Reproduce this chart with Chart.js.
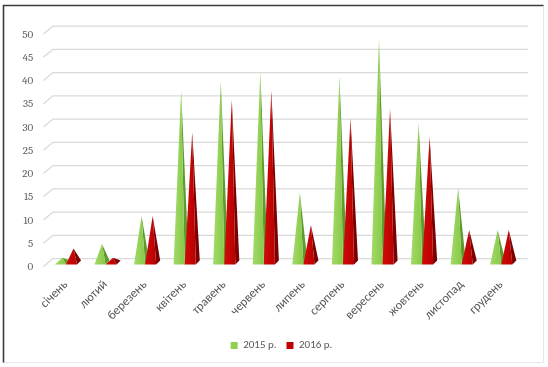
<!DOCTYPE html>
<html>
<head>
<meta charset="utf-8">
<script src="https://cdn.jsdelivr.net/npm/chart.js@4.4.1/dist/chart.umd.min.js"></script>
<style>
  html, body { margin: 0; padding: 0; background: #ffffff; }
  #wrap { width: 548px; height: 367px; position: relative; }
</style>
</head>
<body>
<div id="wrap"><canvas id="chart" width="548" height="367"></canvas></div>
<script>
// Monthly values for two years
const months = ['січень', 'лютий', 'березень', 'квітень', 'травень', 'червень',
                'липень', 'серпень', 'вересень', 'жовтень', 'листопад', 'грудень'];
const values2015 = [1, 4, 10, 37, 39, 41, 15, 40, 48, 30, 16, 7];
const values2016 = [3, 1, 10, 28, 35, 37, 8, 31, 33, 27, 7, 7];
const seriesLabels = ['2015 р.', '2016 р.'];
const yMin = 0, yMax = 50, yStep = 5;

// Colours for each series: front face (light -> dark) and side face
const palette = [
  { legend: '#92d050', front0: '#a2da68', front1: '#88c948', side: '#5e9a2c' },
  { legend: '#c00000', front0: '#d20a0a', front1: '#b80000', side: '#7c0000' }
];

// Depth of the plot "box" (back wall is shifted up-right, front edge down-left)
const wall = { dx: 4.8, dy: 3.9 };
// Half depth of every pyramid base
const pyr = { dx: 2, dy: 2 };

const textColor = '#595959';
const sansFont = "Carlito, Lato, 'Liberation Sans', sans-serif";
const serifFont = "Cambria, 'Liberation Serif', 'DejaVu Serif', serif";

// Back-wall gridlines with the short diagonal floor ticks on the left
const wallGrid = {
  id: 'wallGrid',
  beforeDatasetsDraw(chart) {
    const { ctx, chartArea, scales: { y } } = chart;
    ctx.save();
    ctx.strokeStyle = '#d9d9d9';
    ctx.lineWidth = 1.3;
    y.ticks.forEach(t => {
      const py = y.getPixelForValue(t.value);
      ctx.beginPath();
      ctx.moveTo(chartArea.left - wall.dx, py + wall.dy);
      ctx.lineTo(chartArea.left + wall.dx, py - wall.dy);
      ctx.lineTo(chartArea.right + wall.dx, py - wall.dy);
      ctx.stroke();
    });
    ctx.restore();
  }
};

// Each bar is rendered as a square pyramid using the bar element geometry
const pyramids = {
  id: 'pyramids',
  beforeDatasetDraw() { return false; },
  afterDatasetsDraw(chart) {
    const { ctx } = chart;
    ctx.save();
    chart.data.datasets.forEach((ds, di) => {
      const meta = chart.getDatasetMeta(di);
      if (meta.hidden) return;
      const col = palette[di];
      meta.data.forEach(el => {
        const { x, y, base, width } = el.getProps(['x', 'y', 'base', 'width'], true);
        const half = width / 2;
        const fl = [x - half - pyr.dx, base + pyr.dy];
        const fr = [x + half - pyr.dx, base + pyr.dy];
        const br = [x + half + pyr.dx, base - pyr.dy];
        const apex = [x, y];
        // side face
        ctx.beginPath();
        ctx.moveTo(fr[0], fr[1]);
        ctx.lineTo(br[0], br[1]);
        ctx.lineTo(apex[0], apex[1]);
        ctx.closePath();
        ctx.fillStyle = col.side;
        ctx.fill();
        // front face
        const g = ctx.createLinearGradient(fl[0], 0, fr[0], 0);
        g.addColorStop(0, col.front0);
        g.addColorStop(1, col.front1);
        ctx.beginPath();
        ctx.moveTo(fl[0], fl[1]);
        ctx.lineTo(fr[0], fr[1]);
        ctx.lineTo(apex[0], apex[1]);
        ctx.closePath();
        ctx.fillStyle = g;
        ctx.fill();
      });
    });
    ctx.restore();
  }
};

// Outer frame of the chart
const frame = {
  id: 'frame',
  afterDraw(chart) {
    const { ctx } = chart;
    ctx.save();
    ctx.strokeStyle = '#e6e6e6';
    ctx.lineWidth = 1;
    ctx.beginPath();
    ctx.moveTo(543.5, 5);
    ctx.lineTo(543.5, 362.5);
    ctx.lineTo(3, 362.5);
    ctx.stroke();
    ctx.strokeStyle = '#3c3c3c';
    ctx.lineWidth = 1.6;
    ctx.beginPath();
    ctx.moveTo(3.5, 362.5);
    ctx.lineTo(3.5, 5.5);
    ctx.lineTo(543.5, 5.5);
    ctx.stroke();
    ctx.restore();
  }
};

new Chart(document.getElementById('chart'), {
  type: 'bar',
  data: {
    labels: months,
    datasets: [
      { label: seriesLabels[0], data: values2015, backgroundColor: palette[0].legend, borderWidth: 0 },
      { label: seriesLabels[1], data: values2016, backgroundColor: palette[1].legend, borderWidth: 0 }
    ]
  },
  options: {
    responsive: false,
    animation: false,
    events: [],
    datasets: { bar: { categoryPercentage: 0.56, barPercentage: 1.0 } },
    layout: { padding: { top: 30, left: 15, right: 0, bottom: 6 } },
    scales: {
      x: {
        grid: { display: false, drawTicks: false },
        border: { display: false },
        ticks: {
          autoSkip: false, minRotation: 45, maxRotation: 45,
          padding: 15, labelOffset: -2,
          color: textColor, font: { family: sansFont, size: 12.5 }
        },
        afterFit(s) { s.height = 67.5; }
      },
      y: {
        min: yMin, max: yMax,
        grid: { display: false, drawTicks: false },
        border: { display: false },
        ticks: {
          stepSize: yStep, padding: 15, labelOffset: 4.5,
          color: textColor, font: { family: serifFont, size: 11 }
        },
        afterFit(s) { s.width = 33.2; }
      },
      // empty right-hand band that keeps space to the right of the plot
      side: {
        type: 'linear', position: 'right',
        grid: { display: false, drawTicks: false },
        border: { display: false },
        ticks: { display: false },
        afterFit(s) { s.width = 25; }
      }
    },
    plugins: {
      legend: {
        position: 'bottom',
        labels: {
          boxWidth: 7, boxHeight: 7, padding: 10,
          color: textColor, font: { family: sansFont, size: 11 }
        }
      },
      tooltip: { enabled: false }
    }
  },
  plugins: [wallGrid, pyramids, frame]
});
</script>
</body>
</html>
